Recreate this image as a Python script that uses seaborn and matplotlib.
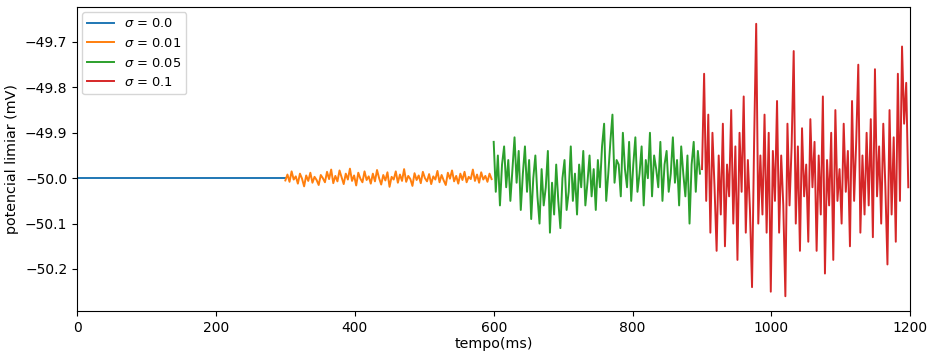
import numpy as np
import pandas as pd
import matplotlib
matplotlib.use("Agg")
import matplotlib.pyplot as plt
import seaborn as sns

labels = [r"$\sigma$ = 0.0", r"$\sigma$ = 0.01", r"$\sigma$ = 0.05", r"$\sigma$ = 0.1"]

blue_t = [0, 300]
blue_v = [-50.0, -50.0]

orange_t = list(range(300, 600, 3))
orange_v = [-50.005, -49.992, -50.008, -49.985, -50.003, -49.996, -50.012, -49.99, -50.001, -50.018,
            -49.994, -50.006, -49.988, -50.01, -49.997, -50.004, -50.015, -49.993, -50.0, -50.009,
            -49.986, -50.002, -49.981, -50.011, -49.995, -50.007, -49.983, -49.998, -50.013, -49.99,
            -50.003, -49.979, -50.006, -49.994, -50.016, -49.988, -50.001, -50.009, -49.985, -50.004,
            -49.996, -50.012, -49.99, -50.007, -49.982, -50.0, -50.014, -49.993, -50.005, -49.987,
            -50.019, -49.997, -50.003, -49.985, -50.01, -49.992, -50.006, -49.98, -50.008, -49.995,
            -50.002, -50.017, -49.989, -50.004, -49.994, -50.011, -49.986, -50.0, -50.007, -49.991,
            -50.013, -49.996, -50.003, -49.984, -50.009, -49.993, -50.005, -50.015, -49.988, -50.001,
            -49.983, -50.007, -49.995, -50.012, -49.99, -50.004, -49.986, -50.009, -49.997, -50.002,
            -49.981, -50.006, -49.992, -50.01, -49.987, -50.003, -49.995, -50.008, -49.99, -50.002]

green_t = list(range(600, 900, 3))
green_v = [-49.92, -50.03, -49.95, -50.06, -49.97, -49.93, -50.02, -49.96, -50.05, -49.98,
           -49.91, -50.01, -49.94, -50.07, -49.99, -49.93, -50.03, -49.96, -50.09, -50.0,
           -49.95, -50.04, -50.1, -49.98, -50.06, -50.02, -49.94, -50.12, -50.01, -50.08,
           -49.97, -50.05, -50.11, -50.0, -49.96, -50.07, -50.03, -49.93, -50.05, -49.99,
           -50.08, -49.97, -50.02, -49.94, -50.06, -50.01, -49.95, -50.04, -49.98, -50.07,
           -49.96, -50.02, -49.93, -49.88, -50.05, -49.99, -49.92, -49.86, -50.01, -49.96,
           -49.97, -50.04, -49.9, -49.98, -50.02, -49.92, -50.05, -49.97, -49.91, -50.03,
           -49.99, -49.93, -50.06, -49.96, -50.0, -49.9, -50.04, -49.95, -49.98, -50.02,
           -49.92, -50.05, -49.97, -49.94, -50.03, -49.99, -49.91, -50.01, -49.96, -50.06,
           -49.93, -49.99, -50.04, -49.95, -50.1, -49.97, -49.92, -50.03, -49.94, -49.99]

red_t = list(range(900, 1200, 3))
red_v = [-49.98, -49.77, -50.05, -49.86, -50.12, -49.9, -50.02, -50.16, -49.95, -50.08,
         -49.88, -50.15, -49.97, -50.04, -49.85, -50.1, -49.93, -50.18, -49.9, -50.03,
         -49.82, -50.12, -49.96, -50.07, -50.24, -49.92, -49.66, -50.1, -49.95, -50.08,
         -49.86, -50.12, -49.9, -50.25, -49.94, -50.05, -49.83, -50.12, -49.95, -50.06,
         -50.26, -49.88, -50.06, -49.93, -49.72, -50.1, -49.93, -50.16, -49.89, -50.04,
         -49.97, -50.14, -49.87, -50.02, -49.92, -50.16, -49.95, -50.08, -49.82, -50.21,
         -49.96, -50.06, -49.9, -50.18, -49.85, -50.05, -49.98, -50.1, -49.88, -50.03,
         -49.94, -50.15, -49.83, -50.05, -49.92, -49.75, -50.12, -49.95, -50.08, -49.9,
         -50.06, -49.87, -50.13, -49.76, -50.04, -49.93, -50.1, -49.88, -50.02, -50.19,
         -49.85, -50.08, -49.91, -50.14, -49.77, -50.05, -49.71, -49.88, -49.79, -50.02]

series_t = [blue_t, orange_t, green_t, red_t]
series_v = [blue_v, orange_v, green_v, red_v]

frames = []
for lab, t, v in zip(labels, series_t, series_v):
    frames.append(pd.DataFrame({"tempo": t, "valor": v, "serie": lab}))
df = pd.concat(frames, ignore_index=True)

fig = plt.figure(figsize=(9.28, 3.51), dpi=100)
ax = fig.add_axes([0.083, 0.114, 0.898, 0.866])
palette = sns.color_palette("tab10", 4)
sns.lineplot(data=df, x="tempo", y="valor", hue="serie", hue_order=labels,
             palette=palette, estimator=None, sort=False, linewidth=1.4, ax=ax)

ax.set_xlim(0, 1200)
ax.set_ylim(-50.2925, -49.623)
ax.set_yticks([-50.2, -50.1, -50.0, -49.9, -49.8, -49.7])
ax.set_yticklabels(["\u221250.2", "\u221250.1", "\u221250.0", "\u221249.9", "\u221249.8", "\u221249.7"])
ax.set_xlabel("tempo(ms)", fontsize=10.3, labelpad=2)
ax.set_ylabel("potencial limiar (mV)", fontsize=10.3)
ax.tick_params(labelsize=10)
ax.legend(loc="upper left", fontsize=9.4, borderaxespad=0.4)

fig.savefig("out.png", dpi=100)
